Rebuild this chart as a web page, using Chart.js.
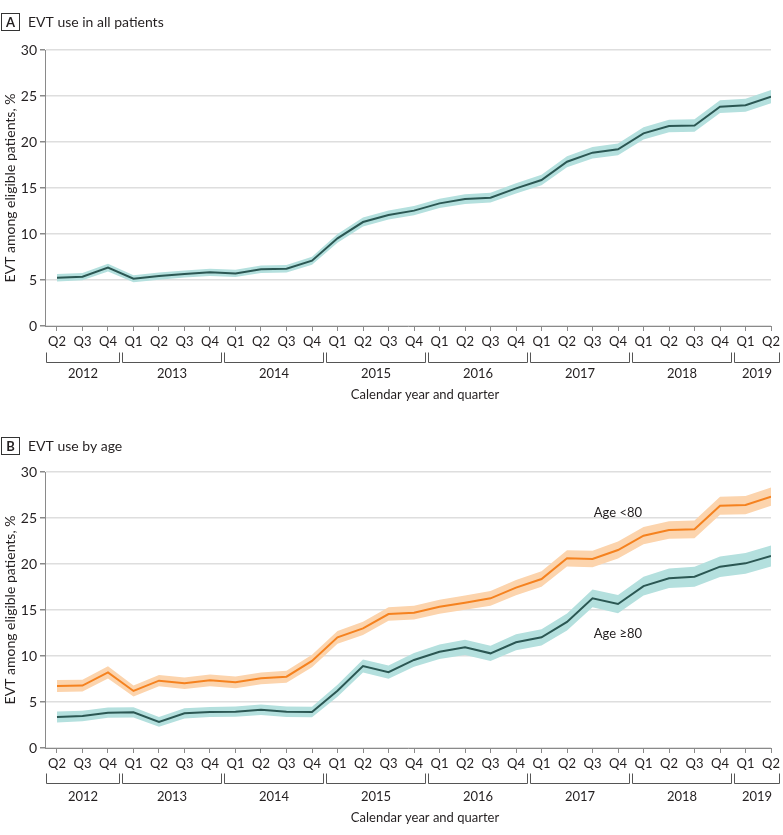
<!DOCTYPE html>
<html>
<head>
<meta charset="utf-8">
<script src="https://cdn.jsdelivr.net/npm/chart.js@4/dist/chart.umd.min.js"></script>
<style>
  html, body { margin: 0; padding: 0; background: #fff; }
  .panel { position: relative; width: 783px; }
  canvas { display: block; }
</style>
</head>
<body>
<div class="panel"><canvas id="chartA" width="783" height="415"></canvas></div>
<div class="panel"><canvas id="chartB" width="783" height="420"></canvas></div>
<script>
// ---------- Data ----------
const quarters = ['Q2','Q3','Q4','Q1','Q2','Q3','Q4','Q1','Q2','Q3','Q4','Q1','Q2','Q3','Q4',
                  'Q1','Q2','Q3','Q4','Q1','Q2','Q3','Q4','Q1','Q2','Q3','Q4','Q1','Q2'];
const yearLabels = ['2012','2013','2014','2015','2016','2017','2018','2019'];
const yearFirstIndex = [0, 3, 7, 11, 15, 19, 23, 27];
const yearLastIndex  = [2, 6, 10, 14, 18, 22, 26, 28];
const yTicks = [0, 5, 10, 15, 20, 25, 30];

// Panel A: all patients
const allMean  = [5.25,5.36,6.34,5.14,5.43,5.65,5.83,5.72,6.16,6.23,7.1,9.53,11.3,12.07,12.54,13.33,13.8,13.95,14.96,15.87,17.86,18.84,19.2,20.94,21.74,21.8,23.84,23.99,24.93];
const allLower = [4.85,4.96,5.92,4.76,5.04,5.26,5.43,5.32,5.75,5.82,6.66,9.06,10.82,11.58,12.04,12.82,13.27,13.42,14.41,15.3,17.26,18.22,18.57,20.28,21.06,21.12,23.14,23.28,24.21];
const allUpper = [5.65,5.76,6.76,5.52,5.82,6.04,6.23,6.12,6.57,6.64,7.54,10.0,11.78,12.56,13.04,13.84,14.33,14.48,15.51,16.44,18.46,19.46,19.83,21.6,22.42,22.48,24.54,24.7,25.65];

// Panel B: by age
const under80Mean  = [6.74,6.78,8.22,6.2,7.32,7.03,7.36,7.14,7.57,7.75,9.46,12.03,13.0,14.56,14.71,15.36,15.8,16.27,17.43,18.37,20.62,20.54,21.52,23.08,23.7,23.77,26.34,26.41,27.32];
const under80Lower = [6.1,6.15,7.55,5.6,6.7,6.4,6.72,6.5,6.92,7.1,8.78,11.33,12.28,13.82,13.96,14.6,15.02,15.47,16.6,17.52,19.74,19.64,20.6,22.14,22.74,22.8,25.36,25.42,26.32];
const under80Upper = [7.38,7.41,8.89,6.8,7.94,7.66,8.0,7.78,8.22,8.4,10.14,12.73,13.72,15.3,15.46,16.12,16.58,17.07,18.26,19.22,21.5,21.44,22.44,24.02,24.66,24.74,27.32,27.4,28.32];

const over80Mean  = [3.37,3.48,3.84,3.88,2.83,3.77,3.91,3.95,4.17,3.95,3.91,6.23,8.91,8.25,9.57,10.47,10.94,10.29,11.49,12.03,13.7,16.27,15.65,17.6,18.44,18.62,19.71,20.07,20.87];
const over80Lower = [2.78,2.9,3.28,3.32,2.3,3.22,3.36,3.4,3.6,3.38,3.33,5.58,8.2,7.52,8.82,9.68,10.12,9.46,10.62,11.14,12.78,15.3,14.66,16.58,17.38,17.54,18.6,18.94,19.72];
const over80Upper = [3.96,4.06,4.4,4.44,3.36,4.32,4.46,4.5,4.74,4.52,4.49,6.88,9.62,8.98,10.32,11.26,11.76,11.12,12.36,12.92,14.62,17.24,16.64,18.62,19.5,19.7,20.82,21.2,22.02];

const seriesLabels = ['Age <80', 'Age \u226580'];
const labelAnchorX = [21.05, 21.05];
const labelAnchorY = [25.6, 12.4];

// ---------- Styles ----------
const FONT = 'Lato, "Open Sans", sans-serif';
const TEXT = '#231f20';
const AXIS = '#8a8a8a';
const GRID = '#dedede';
const TEAL_LINE = '#2b5753';
const TEAL_BAND = '#b4e0de';
const ORANGE_LINE = '#f5821f';
const ORANGE_BAND = '#fcd4ad';

const toPts = arr => arr.map((v, i) => ({ x: i, y: v }));

function bandSets(lower, upper, mean, lineColor, bandColor) {
  return [
    { data: toPts(lower), borderWidth: 0, pointRadius: 0, fill: false, borderColor: 'rgba(0,0,0,0)', tension: 0, order: 3 },
    { data: toPts(upper), borderWidth: 0, pointRadius: 0, fill: '-1', backgroundColor: bandColor, borderColor: 'rgba(0,0,0,0)', tension: 0, order: 2 },
    { data: toPts(mean), borderWidth: 2, pointRadius: 0, fill: false, borderColor: lineColor, tension: 0, order: 1 }
  ];
}

const extras = {
  id: 'extras',
  afterDraw(chart, args, o) {
    const ctx = chart.ctx;
    const ca = chart.chartArea;
    const xs = chart.scales.x;
    const ys = chart.scales.y;
    ctx.save();
    // panel letter box + title
    ctx.strokeStyle = '#333';
    ctx.lineWidth = 1;
    ctx.strokeRect(1.5, o.titleY - 8.5, 18, 17);
    ctx.fillStyle = TEXT;
    ctx.font = 'bold 13px ' + FONT;
    ctx.textAlign = 'center';
    ctx.textBaseline = 'middle';
    ctx.fillText(o.letter, 10.5, o.titleY + 0.5);
    ctx.font = '14px ' + FONT;
    ctx.textAlign = 'left';
    ctx.fillText(o.title, 28, o.titleY);

    // y title
    ctx.save();
    ctx.translate(10, (ca.top + ca.bottom) / 2);
    ctx.rotate(-Math.PI / 2);
    ctx.font = '14px ' + FONT;
    ctx.textAlign = 'center';
    ctx.textBaseline = 'middle';
    ctx.fillText('EVT among eligible patients, %', 0, 0);
    ctx.restore();

    // year brackets
    const yy = Math.round(ca.bottom + o.bracketOffset) + 0.5;
    ctx.strokeStyle = '#555';
    ctx.lineWidth = 1;
    ctx.font = '13px ' + FONT;
    ctx.textAlign = 'center';
    ctx.textBaseline = 'middle';
    for (let i = 0; i < yearLabels.length; i++) {
      const l = Math.round(xs.getPixelForValue(yearFirstIndex[i] - 0.5) + 1.5) + 0.5;
      const r = Math.round(Math.min(xs.getPixelForValue(yearLastIndex[i] + 0.5) - 1.5, ca.right + 8)) + 0.5;
      ctx.beginPath();
      ctx.moveTo(l, yy - 10);
      ctx.lineTo(l, yy);
      ctx.lineTo(r, yy);
      ctx.lineTo(r, yy - 10);
      ctx.stroke();
      ctx.fillText(yearLabels[i], (l + r) / 2, yy + o.yearGap);
    }
    // x title
    ctx.fillText('Calendar year and quarter', (ca.left + ca.right) / 2 + 17, yy + o.xTitleGap);

    // series annotations
    if (o.annotate) {
      ctx.textAlign = 'left';
      for (let i = 0; i < seriesLabels.length; i++) {
        ctx.fillText(seriesLabels[i], xs.getPixelForValue(labelAnchorX[i]), ys.getPixelForValue(labelAnchorY[i]));
      }
    }
    ctx.restore();
  }
};

function makeOptions(canvasH, top, bottom, extraOpts) {
  return {
    responsive: false,
    animation: false,
    devicePixelRatio: 1,
    layout: { padding: { top: top, right: 10, left: 0, bottom: 0 } },
    plugins: { legend: { display: false }, tooltip: { enabled: false }, extras: extraOpts },
    scales: {
      x: {
        type: 'linear', min: -0.47, max: 28,
        afterFit: s => { s.height = canvasH - bottom; },
        ticks: {
          stepSize: 1, includeBounds: false, autoSkip: false, maxRotation: 0, minRotation: 0, padding: 3,
          font: { family: FONT, size: 13 }, color: TEXT,
          callback: v => (quarters[v] !== undefined ? quarters[v] : '')
        },
        grid: { drawOnChartArea: false, drawTicks: true, tickLength: 5, color: AXIS },
        border: { display: true, color: AXIS }
      },
      y: {
        min: 0, max: 30,
        afterFit: s => { s.width = 45; },
        afterBuildTicks: s => { s.ticks = yTicks.map(v => ({ value: v })); },
        ticks: { padding: 3, font: { family: FONT, size: 14 }, color: TEXT },
        grid: { color: GRID, tickColor: AXIS, tickLength: 5, lineWidth: 1.5 },
        border: { display: true, color: AXIS }
      }
    }
  };
}

new Chart(document.getElementById('chartA'), {
  type: 'line',
  data: { datasets: bandSets(allLower, allUpper, allMean, TEAL_LINE, TEAL_BAND) },
  options: makeOptions(415, 50, 326, { letter: 'A', title: 'EVT use in all patients', titleY: 22, bracketOffset: 36, yearGap: 11, xTitleGap: 32, annotate: false }),
  plugins: [extras]
});

new Chart(document.getElementById('chartB'), {
  type: 'line',
  data: { datasets: [
    ...bandSets(over80Lower, over80Upper, over80Mean, TEAL_LINE, TEAL_BAND),
    ...bandSets(under80Lower, under80Upper, under80Mean, ORANGE_LINE, ORANGE_BAND)
  ] },
  options: makeOptions(420, 57, 333, { letter: 'B', title: 'EVT use by age', titleY: 31, bracketOffset: 35, yearGap: 13, xTitleGap: 34, annotate: true }),
  plugins: [extras]
});
</script>
</body>
</html>
